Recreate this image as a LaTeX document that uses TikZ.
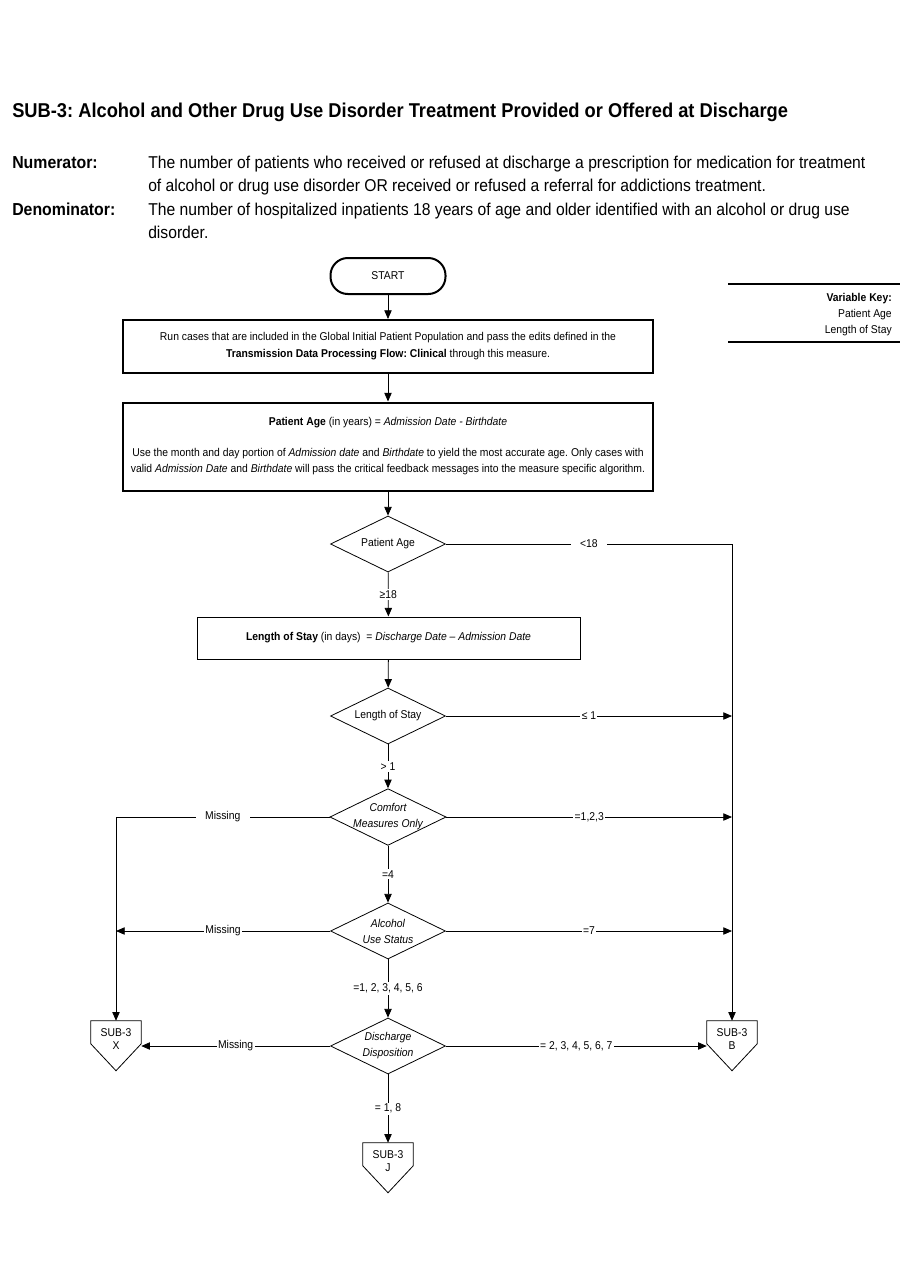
\documentclass[tikz,border=0pt]{standalone}
\usepackage{fontspec}
\setmainfont{Liberation Sans}[FakeStretch=0.915]
\usetikzlibrary{shapes.geometric,arrows.meta}
\frenchspacing

\begin{document}
\begin{tikzpicture}[x=0.75pt,y=-0.75pt,
  every node/.style={font=\fontsize{8.5}{12.75}\selectfont},
  terminal/.style={draw, line width=1.5pt, rounded corners=13pt, minimum width=86.25pt, minimum height=27pt},
  procbox/.style={draw, line width=1.5pt, align=center, inner sep=0pt},
  decision/.style={draw, diamond, aspect=2.05, inner xsep=-3pt, inner ysep=0pt, minimum width=86.25pt, minimum height=42pt, align=center, line width=0.6pt, font=\fontsize{8.5}{12}\selectfont\itshape},
  offpage/.style={inner sep=0pt, minimum width=37.5pt, minimum height=27pt, align=center, font=\fontsize{8.5}{9.75}\selectfont},
  flow/.style={draw, line width=0.6pt, -{Triangle[length=6.5pt,width=5.5pt]}},
  lbl/.style={fill=white, inner sep=1pt},
  gaplbl/.style={fill=white, inner xsep=7pt, inner ysep=1pt}]
\useasboundingbox (0,0) rectangle (900,1286);

% heading
\node (title) at (12,112) [anchor=west, inner sep=0pt, font=\fontsize{15}{18}\selectfont\bfseries] {SUB-3: Alcohol and Other Drug Use Disorder Treatment Provided or Offered at Discharge};
\node (numlab) at (12,156) [anchor=north west, inner sep=0pt, font=\fontsize{13}{17.25}\selectfont\bfseries] {Numerator:};
\node (numtxt) at (148,156) [anchor=north west, inner sep=0pt, align=left, font=\fontsize{12.85}{17.25}\selectfont] {The number of patients who received or refused at discharge a prescription for medication for treatment\\of alcohol or drug use disorder OR received or refused a referral for addictions treatment.};
\node (denlab) at (12,203) [anchor=north west, inner sep=0pt, font=\fontsize{13}{17.25}\selectfont\bfseries] {Denominator:};
\node (dentxt) at (148,203) [anchor=north west, inner sep=0pt, align=left, font=\fontsize{12.85}{17.25}\selectfont] {The number of hospitalized inpatients 18 years of age and older identified with an alcohol or drug use\\disorder.};

% variable key
\draw[line width=1.5pt] (728,284) -- (900,284);
\draw[line width=1.5pt] (728,342) -- (900,342);
\node (varkey) at (892,293) [anchor=north east, inner sep=0pt, align=right, font=\fontsize{8.5}{12}\selectfont] {\textbf{Variable Key:}\\Patient Age\\Length of Stay};

% flow nodes
\node (start) at (388,276) [terminal] {START};
\node (run) at (388,346.5) [procbox, minimum width=397.5pt, minimum height=39.75pt] {Run cases that are included in the Global Initial Patient Population and pass the edits defined in the\\\textbf{Transmission Data Processing Flow: Clinical} through this measure.};
\node (age) at (388,446.5) [procbox, minimum width=397.5pt, minimum height=66pt, font=\fontsize{8.5}{12}\selectfont] {\textbf{Patient Age} (in years) = \textit{Admission Date - Birthdate}\\[11.25pt]Use the month and day portion of \textit{Admission date} and \textit{Birthdate} to yield the most accurate age. Only cases with\\valid \textit{Admission Date} and \textit{Birthdate} will pass the critical feedback messages into the measure specific algorithm.};
\node (pa) at (388,544) [decision, font=\fontsize{8.5}{12}\selectfont] {Patient Age};
\node (los) at (388.5,638) [procbox, line width=0.75pt, minimum width=287.25pt, minimum height=31.5pt] {\textbf{Length of Stay} (in days)\ \ = \textit{Discharge Date – Admission Date}};
\node (lsd) at (388,716) [decision, font=\fontsize{8.5}{12}\selectfont] {Length of Stay};
\node (cmo) at (388,817) [decision] {Comfort\\Measures Only};
\node (aus) at (388,931) [decision] {Alcohol\\Use Status};
\node (dis) at (388,1046) [decision] {Discharge\\Disposition};
\node (offX) at (116,1039) [offpage] {SUB-3\\X};
\node (offB) at (732,1039) [offpage] {SUB-3\\B};
\node (offJ) at (388,1161) [offpage] {SUB-3\\J};

% off-page connector outlines
\foreach \n in {offX,offB,offJ}
  \draw[line width=0.6pt] (\n.north west) -- (\n.north east) -- ([yshift=-17.25pt]\n.north east)
    -- ([yshift=-37.5pt]\n.north) -- ([yshift=-17.25pt]\n.north west) -- cycle;

% connectors
\draw[flow] (start) -- (run);
\draw[flow] (run) -- (age);
\draw[flow] (age) -- (pa);
\draw[flow] (pa) -- node[lbl] {≥18} (los);
\draw[flow] (los) -- (lsd);
\draw[flow] (lsd) -- node[lbl] {> 1} (cmo);
\draw[flow] (cmo) -- node[lbl] {=4} (aus);
\draw[flow] (aus) -- node[lbl] {=1, 2, 3, 4, 5, 6} (dis);
\draw[flow] (dis) -- node[lbl] {= 1, 8} (offJ.north);
\draw[flow] (pa.east) -| node[gaplbl, pos=0.25] {<18} (offB.north);
\draw[flow] (lsd.east) -- node[lbl] {≤ 1} (lsd.east -| offB.north);
\draw[flow] (cmo.east) -- node[lbl] {=1,2,3} (cmo.east -| offB.north);
\draw[flow] (aus.east) -- node[lbl] {=7} (aus.east -| offB.north);
\draw[flow] (dis.east) -- node[lbl] {= 2, 3, 4, 5, 6, 7} (dis.east -| offB.west);
\draw[flow] (cmo.west) -| node[gaplbl, pos=0.25] {Missing} (offX.north);
\draw[flow] (aus.west) -- node[lbl] {Missing} (aus.west -| offX.north);
\draw[flow] (dis.west) -- node[lbl] {Missing} (dis.west -| offX.east);
\end{tikzpicture}
\end{document}
